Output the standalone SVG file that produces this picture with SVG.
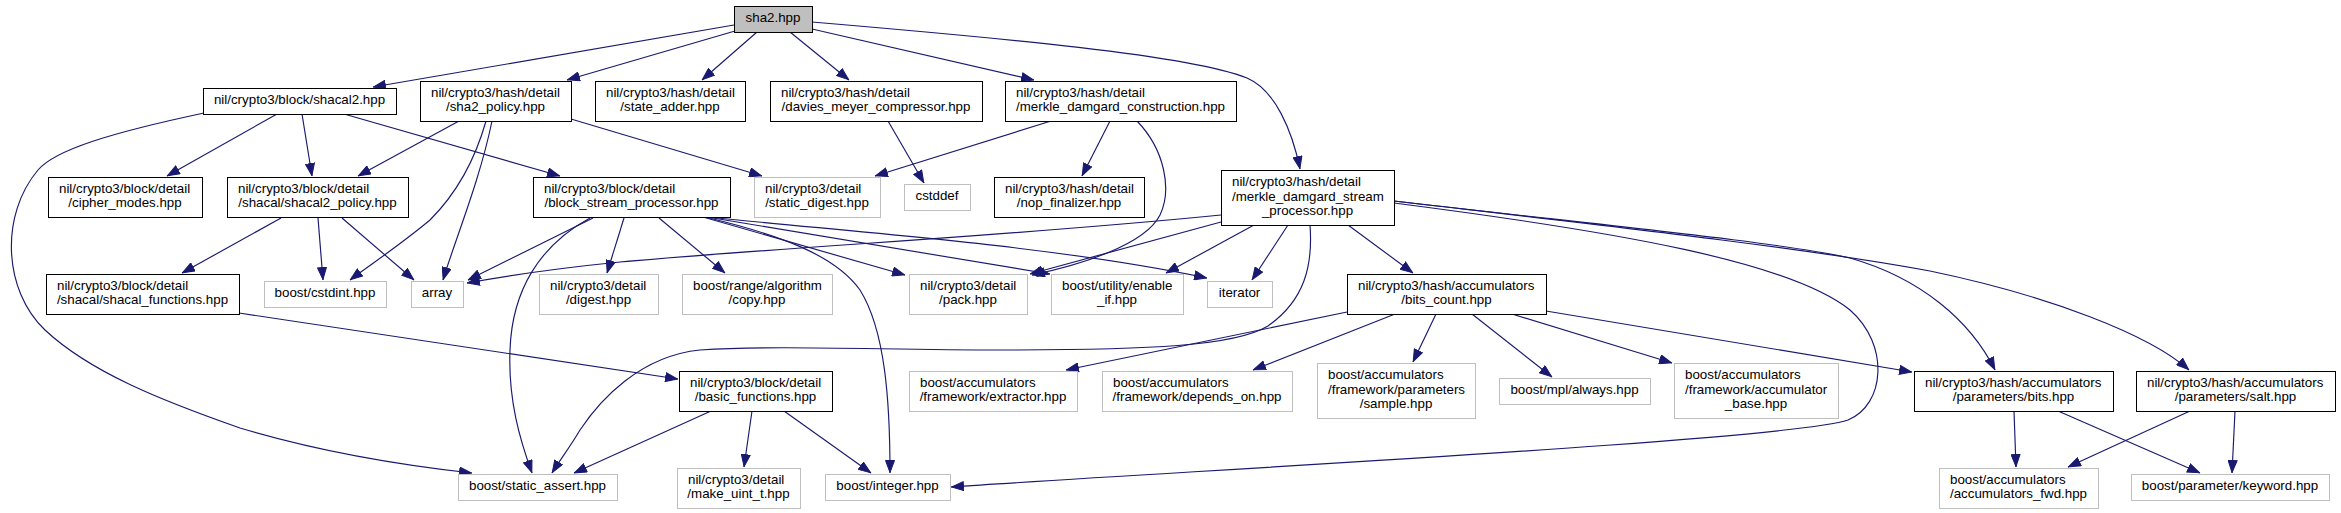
<svg xmlns="http://www.w3.org/2000/svg" width="2341" height="513" viewBox="0 0 2341 513">
<style>
text{font-family:"Liberation Sans",Arial,Helvetica,sans-serif;font-size:13.33px;fill:#000}
.c{text-anchor:middle}
.n rect{fill:#fff;stroke:#000;stroke-width:1}
.g rect{fill:#fff;stroke:#bfbfbf;stroke-width:1}
.r rect{fill:#bfbfbf;stroke:#000;stroke-width:1}
#edges path{fill:none;stroke:#191970;stroke-width:1.15;marker-end:url(#ah)}
</style>
<defs>
<marker id="ah" markerUnits="userSpaceOnUse" markerWidth="13" markerHeight="10" viewBox="0 0 13 10" refX="13" refY="5" orient="auto">
<path d="M0.5,0.5 L12.5,5 L0.5,9.5 z" fill="#191970" stroke="#191970" stroke-width="1"/>
</marker>
</defs>
<rect width="2341" height="513" fill="#fff"/>
<g id="edges">
<path d="M734,25 L373,87"/>
<path d="M735,31 L567,80"/>
<path d="M757,32 L702,80"/>
<path d="M790,32 L849,80"/>
<path d="M812,29 L1034,80"/>
<path d="M812,22 C1000,38 1190,55 1247,78 C1275,90 1292,130 1300,169"/>
<path d="M277,114 L167,176"/>
<path d="M302,114 L312,176"/>
<path d="M344,114 L560,176"/>
<path d="M204,113 C110,133 55,150 38,170 C0,215 3,290 45,330 C90,372 160,400 240,428 C320,452 400,465 472,473"/>
<path d="M459,121 L358,176"/>
<path d="M486,121 C475,160 455,195 430,220 C400,245 370,265 350,280"/>
<path d="M492,121 C480,180 455,240 443,280"/>
<path d="M571,119 L762,176"/>
<path d="M888,121 L924,183"/>
<path d="M1051,121 L875,176"/>
<path d="M1110,121 L1082,176"/>
<path d="M1137,121 C1165,150 1172,190 1160,215 C1145,245 1080,265 1032,275"/>
<path d="M1221,222 L1030,274"/>
<path d="M1221,215 C1000,237 800,246 620,262 C540,270 500,277 467,283"/>
<path d="M1254,225 L1166,273"/>
<path d="M1288,225 L1252,280"/>
<path d="M1310,225 C1313,265 1305,300 1268,326 C1235,346 1150,350 1000,350 C880,350 780,345 700,350 C640,356 600,400 580,430 C570,447 560,460 552,473"/>
<path d="M1348,225 L1413,273"/>
<path d="M1394,201 C1600,225 1780,242 1850,258 C1920,278 1970,320 1995,370"/>
<path d="M1394,201 C1600,225 1800,247 1930,271 C2050,296 2150,335 2189,370"/>
<path d="M1394,203 C1620,232 1790,262 1850,310 C1890,345 1885,405 1848,420 C1790,440 1200,470 951,487"/>
<path d="M593,218 L468,280"/>
<path d="M590,218 C540,245 512,290 510,350 C508,400 520,440 532,473"/>
<path d="M624,218 L607,273"/>
<path d="M659,218 L725,273"/>
<path d="M703,217 L905,275"/>
<path d="M705,217 C780,235 835,255 860,290 C885,330 890,400 890,473"/>
<path d="M707,217 L1050,274"/>
<path d="M709,217 C850,232 1050,245 1207,278"/>
<path d="M281,218 L182,273"/>
<path d="M318,218 L323,280"/>
<path d="M342,218 L414,280"/>
<path d="M239,313 L678,379"/>
<path d="M711,411 L574,473"/>
<path d="M752,411 L744,467"/>
<path d="M784,411 L871,473"/>
<path d="M1347,312 L1066,370"/>
<path d="M1395,314 L1253,370"/>
<path d="M1436,314 L1413,362"/>
<path d="M1472,314 L1552,377"/>
<path d="M1512,314 L1672,363"/>
<path d="M1546,311 L1912,372"/>
<path d="M2014,411 L2016,467"/>
<path d="M2058,411 L2200,473"/>
<path d="M2190,411 L2068,467"/>
<path d="M2235,411 L2232,473"/>
</g>
<g id="sha2" class="r"><rect x="734.5" y="6.5" width="78" height="26"/><text class="c" x="773" y="22">sha2.hpp</text></g>
<g id="shacal2" class="n"><rect x="203.5" y="88.5" width="193" height="26"/><text class="c" x="299.5" y="104">nil/crypto3/block/shacal2.hpp</text></g>
<g id="sha2_policy" class="n"><rect x="420.5" y="81.5" width="151" height="40"/><text x="431" y="96.8">nil/crypto3/hash/detail</text><text class="c" x="495.5" y="111.2">/sha2_policy.hpp</text></g>
<g id="state_adder" class="n"><rect x="595.5" y="81.5" width="150" height="40"/><text x="606" y="96.8">nil/crypto3/hash/detail</text><text class="c" x="670" y="111.2">/state_adder.hpp</text></g>
<g id="davies_meyer" class="n"><rect x="770.5" y="81.5" width="212" height="40"/><text x="781" y="96.8">nil/crypto3/hash/detail</text><text class="c" x="876" y="111.2">/davies_meyer_compressor.hpp</text></g>
<g id="md_construction" class="n"><rect x="1005.5" y="81.5" width="231" height="40"/><text x="1016" y="96.8">nil/crypto3/hash/detail</text><text class="c" x="1120.5" y="111.2">/merkle_damgard_construction.hpp</text></g>
<g id="md_stream" class="n"><rect x="1221.5" y="170.5" width="173" height="55"/><text x="1232" y="186.1">nil/crypto3/hash/detail</text><text x="1232" y="200.5">/merkle_damgard_stream</text><text class="c" x="1307.5" y="214.9">_processor.hpp</text></g>
<g id="cipher_modes" class="n"><rect x="48.5" y="177.5" width="154" height="40"/><text x="59" y="192.8">nil/crypto3/block/detail</text><text class="c" x="125" y="207.2">/cipher_modes.hpp</text></g>
<g id="shacal2_policy" class="n"><rect x="227.5" y="177.5" width="181" height="40"/><text x="238" y="192.8">nil/crypto3/block/detail</text><text class="c" x="317.5" y="207.2">/shacal/shacal2_policy.hpp</text></g>
<g id="block_stream" class="n"><rect x="533.5" y="177.5" width="197" height="40"/><text x="544" y="192.8">nil/crypto3/block/detail</text><text class="c" x="631.5" y="207.2">/block_stream_processor.hpp</text></g>
<g id="static_digest" class="g"><rect x="754.5" y="177.5" width="126" height="40"/><text x="765" y="192.8">nil/crypto3/detail</text><text class="c" x="817" y="207.2">/static_digest.hpp</text></g>
<g id="cstddef" class="g"><rect x="904.5" y="184.5" width="66" height="26"/><text class="c" x="937" y="200">cstddef</text></g>
<g id="nop_finalizer" class="n"><rect x="994.5" y="177.5" width="150" height="40"/><text x="1005" y="192.8">nil/crypto3/hash/detail</text><text class="c" x="1069" y="207.2">/nop_finalizer.hpp</text></g>
<g id="shacal_functions" class="n"><rect x="46.5" y="274.5" width="193" height="40"/><text x="57" y="289.8">nil/crypto3/block/detail</text><text class="c" x="142.5" y="304.2">/shacal/shacal_functions.hpp</text></g>
<g id="cstdint" class="g"><rect x="264.5" y="281.5" width="122" height="26"/><text class="c" x="325" y="297">boost/cstdint.hpp</text></g>
<g id="array" class="g"><rect x="411.5" y="281.5" width="52" height="26"/><text class="c" x="437" y="297">array</text></g>
<g id="digest" class="g"><rect x="539.5" y="274.5" width="119" height="40"/><text x="550" y="289.8">nil/crypto3/detail</text><text class="c" x="598.5" y="304.2">/digest.hpp</text></g>
<g id="copy" class="g"><rect x="682.5" y="274.5" width="150" height="40"/><text x="693" y="289.8">boost/range/algorithm</text><text class="c" x="757" y="304.2">/copy.hpp</text></g>
<g id="pack" class="g"><rect x="909.5" y="274.5" width="118" height="40"/><text x="920" y="289.8">nil/crypto3/detail</text><text class="c" x="968" y="304.2">/pack.hpp</text></g>
<g id="enable_if" class="g"><rect x="1051.5" y="274.5" width="132" height="40"/><text x="1062" y="289.8">boost/utility/enable</text><text class="c" x="1117" y="304.2">_if.hpp</text></g>
<g id="iterator" class="g"><rect x="1207.5" y="281.5" width="65" height="26"/><text class="c" x="1239.5" y="297">iterator</text></g>
<g id="bits_count" class="n"><rect x="1347.5" y="274.5" width="199" height="40"/><text x="1358" y="289.8">nil/crypto3/hash/accumulators</text><text class="c" x="1446.5" y="304.2">/bits_count.hpp</text></g>
<g id="basic_functions" class="n"><rect x="679.5" y="371.5" width="153" height="40"/><text x="690" y="386.8">nil/crypto3/block/detail</text><text class="c" x="755.5" y="401.2">/basic_functions.hpp</text></g>
<g id="extractor" class="g"><rect x="909.5" y="371.5" width="168" height="40"/><text x="920" y="386.8">boost/accumulators</text><text class="c" x="993" y="401.2">/framework/extractor.hpp</text></g>
<g id="depends_on" class="g"><rect x="1102.5" y="371.5" width="190" height="40"/><text x="1113" y="386.8">boost/accumulators</text><text class="c" x="1197" y="401.2">/framework/depends_on.hpp</text></g>
<g id="sample" class="g"><rect x="1317.5" y="363.5" width="158" height="55"/><text x="1328" y="379.1">boost/accumulators</text><text x="1328" y="393.5">/framework/parameters</text><text class="c" x="1396" y="407.9">/sample.hpp</text></g>
<g id="always" class="g"><rect x="1499.5" y="378.5" width="151" height="26"/><text class="c" x="1574.5" y="394">boost/mpl/always.hpp</text></g>
<g id="accumulator_base" class="g"><rect x="1674.5" y="363.5" width="164" height="55"/><text x="1685" y="379.1">boost/accumulators</text><text x="1685" y="393.5">/framework/accumulator</text><text class="c" x="1756" y="407.9">_base.hpp</text></g>
<g id="bits" class="n"><rect x="1914.5" y="371.5" width="199" height="40"/><text x="1925" y="386.8">nil/crypto3/hash/accumulators</text><text class="c" x="2013.5" y="401.2">/parameters/bits.hpp</text></g>
<g id="salt" class="n"><rect x="2136.5" y="371.5" width="199" height="40"/><text x="2147" y="386.8">nil/crypto3/hash/accumulators</text><text class="c" x="2235.5" y="401.2">/parameters/salt.hpp</text></g>
<g id="static_assert" class="g"><rect x="458.5" y="474.5" width="159" height="26"/><text class="c" x="537.5" y="490">boost/static_assert.hpp</text></g>
<g id="make_uint_t" class="g"><rect x="677.5" y="468.5" width="123" height="40"/><text x="688" y="483.8">nil/crypto3/detail</text><text class="c" x="738.5" y="498.2">/make_uint_t.hpp</text></g>
<g id="integer" class="g"><rect x="825.5" y="474.5" width="125" height="26"/><text class="c" x="887.5" y="490">boost/integer.hpp</text></g>
<g id="accumulators_fwd" class="g"><rect x="1939.5" y="468.5" width="159" height="40"/><text x="1950" y="483.8">boost/accumulators</text><text class="c" x="2018.5" y="498.2">/accumulators_fwd.hpp</text></g>
<g id="keyword" class="g"><rect x="2131.5" y="474.5" width="198" height="26"/><text class="c" x="2230" y="490">boost/parameter/keyword.hpp</text></g>
</svg>
